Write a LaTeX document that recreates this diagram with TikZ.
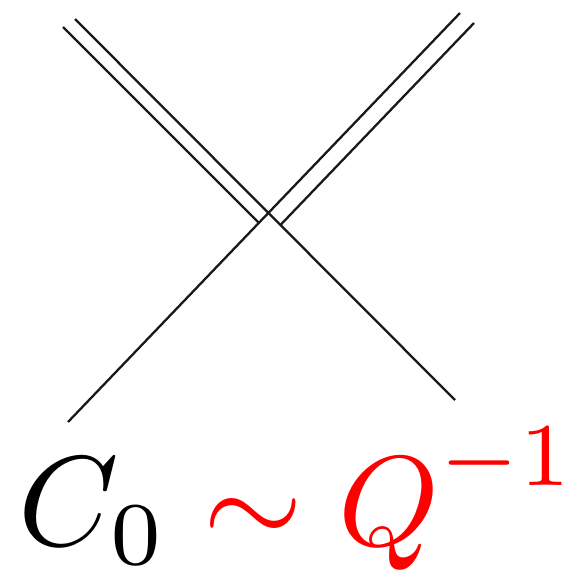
\documentclass[tikz,border=0pt]{standalone}
\usepackage{xcolor}
\begin{document}
\begin{tikzpicture}[x=0.1pt,y=-0.1pt,
  ribbon/.style={draw=black!90,line width=0.23pt,line cap=butt},
  lbl/.style={inner sep=0pt,anchor=base west,scale=1.28,transform shape}]
\useasboundingbox (0,0) rectangle (569,574);
\coordinate (A1) at (75,19);
\coordinate (A2) at (455,400);
\coordinate (B1) at (63,27);
\coordinate (C1) at (460,13);
\coordinate (C2) at (68,422);
\coordinate (D1) at (474,23);
\coordinate (BC) at (intersection of B1--{[shift={(1,1)}]B1} and C1--C2);
\coordinate (DA) at (intersection of D1--{[shift={(-392,409)}]D1} and A1--A2);
\draw[ribbon] (A1) -- (A2);
\draw[ribbon] (C1) -- (C2);
\draw[ribbon] (B1) -- (BC);
\draw[ribbon] (D1) -- (DA);
\node[lbl] (eq) at (16,545) {$C_0\color{red}\sim Q^{\raisebox{1pt}{$\scriptstyle -1$}}$};
\end{tikzpicture}
\end{document}
